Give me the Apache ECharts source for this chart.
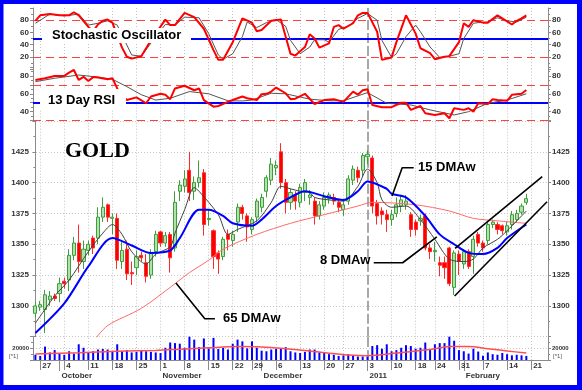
<!DOCTYPE html>
<html><head><meta charset="utf-8">
<script src="https://cdn.jsdelivr.net/npm/echarts@6/dist/echarts.min.js"></script>
<style>html,body{margin:0;padding:0;background:#fff}#c{width:582px;height:390px}</style>
</head><body><div id="c"></div>
<script>
// ---------- DATA ----------
const cats = ['9/24','9/27','9/28','9/29','9/30','10/1',
'10/4','10/5','10/6','10/7','10/8','10/11','10/12','10/13','10/14','10/15',
'10/18','10/19','10/20','10/21','10/22','10/25','10/26','10/27','10/28','10/29',
'11/1','11/2','11/3','11/4','11/5','11/8','11/9','11/10','11/11','11/12',
'11/15','11/16','11/17','11/18','11/19','11/22','11/23','11/24','11/26',
'11/29','11/30','12/1','12/2','12/3','12/6','12/7','12/8','12/9','12/10',
'12/13','12/14','12/15','12/16','12/17','12/20','12/21','12/22','12/23',
'12/27','12/28','12/29','12/30','12/31','1/3','1/4','1/5','1/6','1/7',
'1/10','1/11','1/12','1/13','1/14','1/18','1/19','1/20','1/21',
'1/24','1/25','1/26','1/27','1/28','1/31','2/1','2/2','2/3','2/4',
'2/7','2/8','2/9','2/10','2/11','2/14','2/15','2/16','2/17','2/18',
'2/22','2/23','2/24','2/25'];

const weekIdx    = [1,6,11,16,21,26,31,36,41,45,50,55,60,64,69,74,79,83,88,93,98,103];
const weekLabels = ['27','4','11','18','25','1','8','15','22','29','6','13','20','27','3','10','18','24','31','7','14','21'];
const monthIdx    = [5,26,47,69,89];
const monthLabels = ['October','November','December','2011','February'];
const yearIdx = 69;

const open = [1294,1299,1297,1305,1308,1310,1320,1321,1341,1351,
1336,1345,1355,1355,1372,1382,1371,1371,1336,1346,
1327,1331,1341,1335,1325,1344,1360,1351,1358,1347,
1393,1397,1410,1393,1400,1408,1370,1361,1343,1340,
1358,1353,1368,1380,1373,1362,1372,1380,1393,1402,
1412,1425,1400,1384,1390,1384,1392,1388,1385,1373,
1381,1387,1388,1384,1378,1385,1402,1410,1410,1421,
1420,1383,1377,1374,1370,1375,1381,1382,1374,1368,
1369,1373,1347,1344,1335,1335,1347,1315,1342,1334,
1344,1340,1358,1351,1353,1366,1366,1365,1360,1366,
1370,1376,1384];
const close = [1300,1301,1309,1308,1306,1318,1318,1341,1351,1336,
1346,1350,1347,1372,1380,1372,1372,1337,1345,1326,
1326,1340,1339,1324,1343,1358,1351,1357,1339,1384,
1398,1403,1392,1400,1404,1366,1371,1340,1338,1354,
1354,1358,1380,1375,1364,1370,1385,1388,1404,1415,
1414,1400,1384,1392,1385,1396,1400,1390,1373,1382,
1388,1390,1385,1380,1382,1403,1411,1404,1422,1423,
1381,1373,1374,1370,1374,1382,1386,1385,1362,1362,
1371,1347,1344,1345,1333,1331,1318,1343,1336,1344,
1332,1354,1351,1347,1366,1368,1362,1361,1365,1374,
1375,1381,1387];
const low = [1291,1296,1278,1300,1304,1303,1314,1312,1337,1327,
1330,1341,1342,1350,1368,1368,1358,1330,1330,1321,
1317,1325,1336,1319,1322,1340,1348,1348,1327,1344,
1385,1392,1385,1386,1396,1357,1365,1330,1326,1337,
1345,1348,1360,1370,1352,1358,1368,1376,1388,1398,
1406,1395,1375,1378,1378,1380,1385,1382,1366,1370,
1378,1383,1382,1376,1373,1382,1398,1400,1405,1415,
1375,1366,1366,1360,1365,1372,1376,1378,1356,1357,
1365,1345,1338,1336,1324,1322,1316,1309,1325,1330,
1330,1326,1348,1344,1350,1363,1358,1358,1357,1362,
1368,1374,1382];
const high = [1303,1304,1313,1312,1310,1323,1323,1346,1356,1366,
1353,1353,1357,1380,1388,1383,1375,1375,1352,1353,
1336,1345,1344,1342,1346,1361,1361,1360,1360,1393,
1402,1410,1425,1405,1418,1411,1378,1362,1345,1356,
1362,1361,1383,1382,1375,1372,1387,1391,1406,1420,
1418,1432,1403,1395,1393,1399,1403,1394,1388,1385,
1392,1392,1391,1386,1385,1406,1414,1413,1424,1426,
1422,1386,1380,1378,1378,1388,1390,1390,1376,1370,
1374,1375,1350,1352,1340,1340,1348,1345,1345,1346,
1346,1357,1360,1353,1368,1370,1368,1366,1368,1377,
1378,1383,1391];

const volume = [9000,7000,23000,13000,17000,11000,9000,15000,11000,27000,21000,12000,15000,18000,19000,18000,15000,27000,
15000,17000,13000,14000,16000,15000,14000,13000,
12000,21000,30000,29000,28000,21000,40000,35000,22000,37000,
20000,38000,19000,21000,18000,28000,35000,32000,20000,
32000,21000,16000,15000,18000,19000,20000,22000,15000,13000,12000,
14000,18000,18000,13000,12000,10000,9000,7000,8000,10000,7000,6000,6000,
6000,
24000,25500,19400,27000,15000,17000,21000,25500,24000,19400,21000,30000,18000,27000,29000,29000,40000,33000,17000,15000,11000,19400,14500,7300,13000,
10000,9000,12000,10000,8000,9000,8000,7000];
const volMA = [[0,10500],[9,12500],[17,15000],[25,16500],[30,18500],[36,21000],[42,23000],[47,22500],[52,19500],[57,15500],[61,11500],[65,8500],[69,7500],[75,12000],[82,18000],[86,23000],[90,23000],[94,19500],[98,15500],[102,12000]];

const ma8 = [[0,1286],[4,1308],[7,1321],[11,1344],[14,1359],[16,1366],[18,1358],[20,1344],[23,1334],[25,1342],[28,1348],[29,1359],[31,1378],[33,1396],[34,1393],[38,1374],[40,1358],[42,1362],[46,1369],[49,1384],[51,1397],[53,1395],[55,1393],[57,1392],[58,1388],[61,1386],[64,1385],[67,1397],[69,1411],[71,1400],[72,1386],[74,1380],[77,1381],[80,1370],[83,1354],[86,1338],[89,1336],[91,1338],[93,1347],[96,1354],[98,1361],[102,1377]];
const ma15 = [[0,1278],[6,1302],[11,1332],[16,1355],[20,1349],[24,1343],[28,1345],[30,1355],[34,1378],[36,1378],[39,1373],[41,1367],[45,1365],[47,1370],[50,1381],[53,1388],[56,1393],[60,1389],[64,1386],[67,1393],[69,1401],[73,1395],[74,1391],[77,1388],[81,1373],[84,1358],[87,1350],[90,1343],[93,1342],[96,1347],[98,1355],[102,1366]];
const ma65 = [[12,1271],[15,1284],[22,1298],[29,1318],[32,1327],[36,1337],[39,1346],[46,1358],[53,1367],[60,1374],[67,1381],[70,1384],[79,1382],[86,1377],[91,1371],[96,1369],[102,1367]];

const stochK = [[0,79],[1,88],[3,90],[5,88],[7,88],[8,93],[9,88],[11,69],[12,62],[13,73],[14,79],[15,81],[16,76],[17,55],[18,35],[19,20],[20,17],[22,21],[24,47],[27,81],[28,72],[29,72],[31,92],[33,85],[35,66],[37,31],[38,15],[39,15],[41,44],[43,83],[45,76],[46,62],[47,64],[49,79],[51,81],[52,53],[53,25],[54,22],[56,36],[57,57],[58,50],[59,35],[61,42],[62,69],[63,72],[64,66],[66,75],[67,88],[68,92],[69,92],[71,61],[72,15],[74,19],[75,44],[77,88],[79,58],[80,34],[82,26],[83,16],[85,20],[86,21],[88,44],[89,75],[90,69],[91,80],[93,76],[94,76],[96,88],[97,83],[99,73],[100,79],[101,83],[102,88]];
const stochD = [[0,75],[3,90],[6,87],[9,90],[11,72],[13,75],[15,79],[17,72],[20,23],[22,21],[25,53],[27,73],[29,72],[31,85],[34,84],[36,58],[38,23],[39,16],[41,25],[43,53],[44,77],[46,68],[48,76],[50,81],[52,70],[53,47],[55,25],[57,36],[58,48],[60,48],[61,44],[63,65],[65,70],[67,83],[69,91],[71,80],[72,47],[74,19],[75,25],[77,53],[79,72],[80,61],[82,36],[84,19],[86,21],[88,25],[89,50],[91,75],[92,76],[94,77],[96,84],[98,79],[100,77],[102,85]];
const stochLevels = [80, 20], stochMid = 50;

const rsi = [[0,75.5],[2,77.4],[4,80],[6,80],[7,83.7],[8,86.7],[9,75.5],[10,79],[11,74.4],[12,78.7],[13,78.3],[15,76.3],[16,77.4],[17,66],[18,58],[19,53],[21,56],[23,49.4],[24,57],[26,60],[27,59],[28,54],[29,66],[31,69],[33,64],[34,66],[35,53],[37,45.6],[38,46.3],[40,51],[41,53],[43,57],[44,55],[46,53],[47,59.5],[48,60],[49,62.5],[50,67],[52,60.6],[53,54],[54,54.5],[56,60],[58,48.6],[60,53],[62,54],[64,51],[66,62.5],[67,59],[68,64],[69,65],[70,47.5],[72,45],[74,45],[76,50],[77,50],[78,42],[80,46.4],[81,38.2],[83,36.3],[85,38.2],[86,32.6],[87,43.8],[89,42],[90,43.8],[91,40],[92,49.4],[94,48.6],[95,53.9],[96,53],[98,52.2],[99,58.9],[101,60],[102,64.3]];
const rsiMA = [[0,73.6],[4,77.4],[9,81],[13,78.7],[16,76.3],[19,68],[22,59],[25,53],[28,55],[32,62.5],[36,60],[40,52.2],[43,52],[45,53],[49,60.6],[52,60],[57,54],[61,52.2],[64,52.2],[69,61.3],[73,49.4],[78,47.5],[82,42],[87,36.3],[90,40],[94,49.4],[98,53],[102,60]];
const rsiLevels = [70, 30], rsiMid = 50;

// annotation lines (data coordinates: trading-day index, price)
const lead15 = [[74.1,1389.2],[76.2,1412.1],[78.6,1412.1]];
const lead8 = [[70.3,1335],[76.3,1335],[83.4,1355.9]];
const lead65 = [[29.2,1318.6],[35.2,1289.6],[37.3,1289.6]];
const chanUpper = [[87.2,1346.7],[105.3,1404.8]];
const chanLower = [[87.1,1308],[106.3,1384.5]];

// ---------- CHART ----------
const candles = open.map((o,i)=>[o, close[i], low[i], high[i]]);
const FONT = 'Liberation Sans';
const weekMap = {}; weekIdx.forEach((i,k)=>weekMap[i]=weekLabels[k]);
const monthMap = {}; monthIdx.forEach((i,k)=>monthMap[i]=monthLabels[k]);
const axisCol = '#8a8a8a';

function vGrid(){
  return weekIdx.filter(i=>i!==yearIdx).map(i=>({xAxis:i, lineStyle:{color:'#c4c4c4', type:[1,2], width:1}}))
    .concat([{xAxis:yearIdx, lineStyle:{color:'#a8a8a8', type:[10,3], width:2}}]);
}
function hLine(v,color,type,width){ return {yAxis:v, lineStyle:{color,type,width}}; }
function mk(extra){ return {silent:true, symbol:'none', z:1, label:{show:false}, emphasis:{disabled:true}, animation:false, data:vGrid().concat(extra||[])}; }

function yAx(gridIndex, position, min, max, interval, fmt, extra){
  return Object.assign({
    type:'value', gridIndex, position, min, max, interval,
    axisLine:{show:true, lineStyle:{color:axisCol, width:1}},
    axisTick:{show:true, length:3, lineStyle:{color:axisCol}},
    minorTick:{show:true, splitNumber:2, length:2, lineStyle:{color:axisCol}},
    splitLine:{show:false},
    axisLabel:{formatter:fmt, fontSize:8, fontWeight:'bold', color:'#333', fontFamily:FONT, margin:4}
  }, extra||{});
}
const fStoch = v => (v>=20 && v<=80) ? String(v) : '';
const fRsi = v => (v===40||v===60||v===80) ? String(v) : '';
const fMain = v => (v>=1300 && v<=1425) ? String(v) : '';
const fVol = v => v===20000 ? '20000' : '';
const dotted = {show:true, lineStyle:{color:'#c8c8c8', type:[1,2], width:1}};

const lineBase = {type:'line', symbol:'none', silent:true, animation:false};
const annStyle = {color:'#000', width:1.6};

const chart = echarts.init(document.getElementById('c'));
chart.setOption({
  animation:false,
  backgroundColor:'#fff',
  grid:[
    {left:33, width:515, top:8, height:61},
    {left:33, width:515, top:67, height:53.6},
    {left:33, width:515, top:121, height:215.7},
    {left:33, width:515, top:336.7, height:23.3}
  ],
  xAxis:[
    {type:'category', gridIndex:0, data:cats, show:false},
    {type:'category', gridIndex:1, data:cats, show:false},
    {type:'category', gridIndex:2, data:cats, show:false},
    {type:'category', gridIndex:3, data:cats, position:'bottom',
      axisLine:{show:true, lineStyle:{color:axisCol}},
      axisTick:{show:true, alignWithLabel:true, length:10, interval:(i)=>weekMap[i]!==undefined||monthMap[i]!==undefined, lineStyle:{color:axisCol}},
      axisLabel:{interval:(i)=>weekMap[i]!==undefined, formatter:(v,i)=>weekMap[i]||'', align:'left', margin:2, padding:[0,0,0,2], fontSize:8, fontWeight:'bold', color:'#333', fontFamily:FONT},
      splitLine:{show:false}},
    {type:'category', gridIndex:3, data:cats, position:'bottom', offset:10,
      axisLine:{show:true, lineStyle:{color:axisCol}},
      axisTick:{show:true, alignWithLabel:true, length:11, interval:(i)=>monthMap[i]!==undefined, lineStyle:{color:axisCol}},
      axisLabel:{interval:(i)=>monthMap[i]!==undefined, formatter:(v,i)=>monthMap[i]||'', align:'left', margin:2, padding:[0,0,0,2], fontSize:8, fontWeight:'bold', color:'#333', fontFamily:FONT},
      splitLine:{show:false}},
    {type:'value', gridIndex:2, min:-0.5, max:106.5, show:false}
  ],
  yAxis:[
    yAx(0,'left',0,100,20,fStoch),
    yAx(0,'right',0,100,20,fStoch),
    yAx(1,'left',30,90,10,fRsi),
    yAx(1,'right',30,90,10,fRsi),
    yAx(2,'left',1275,1450,25,fMain,{splitLine:dotted}),
    yAx(2,'right',1275,1450,25,fMain),
    yAx(3,'left',0,40000,20000,fVol,{splitLine:dotted, axisLabel:{formatter:fVol, fontSize:6, fontWeight:'bold', color:'#333', fontFamily:FONT, margin:4}}),
    yAx(3,'right',0,40000,20000,fVol,{axisLabel:{formatter:fVol, fontSize:6, fontWeight:'bold', color:'#333', fontFamily:FONT, margin:4}})
  ],
  series:[
    {...lineBase, xAxisIndex:0, yAxisIndex:0, data:stochD, z:3, lineStyle:{color:'#555', width:1},
      markLine:mk([hLine(stochLevels[0],'#ff4040',[8,5],1), hLine(stochLevels[1],'#ff4040',[8,5],1), hLine(stochMid,'#0000ff','solid',2)])},
    {...lineBase, xAxisIndex:0, yAxisIndex:0, data:stochK, z:4, lineStyle:{color:'#ff0000', width:2}},
    {...lineBase, xAxisIndex:1, yAxisIndex:2, data:rsiMA, z:3, lineStyle:{color:'#555', width:1},
      markLine:mk([hLine(rsiLevels[0],'#ff4040',[8,5],1), hLine(rsiLevels[1],'#ff4040',[8,5],1), hLine(rsiMid,'#0000ff','solid',2)])},
    {...lineBase, xAxisIndex:1, yAxisIndex:2, data:rsi, z:4, lineStyle:{color:'#ff0000', width:2}},
    {type:'candlestick', xAxisIndex:2, yAxisIndex:4, data:candles, barWidth:3.6, silent:true, z:2,
      itemStyle:{color:'#b4e0ab', color0:'#ff0000', borderColor:'#3d9e3d', borderColor0:'#ff2a2a', borderWidth:1},
      markLine:mk([])},
    {...lineBase, xAxisIndex:2, yAxisIndex:4, data:ma65, smooth:0.3, z:3, lineStyle:{color:'#ff6a6a', width:1}},
    {...lineBase, xAxisIndex:2, yAxisIndex:4, data:ma8, smooth:0.3, z:3, lineStyle:{color:'#404040', width:1}},
    {...lineBase, xAxisIndex:2, yAxisIndex:4, data:ma15, smooth:0.3, z:4, lineStyle:{color:'#0000ff', width:2}},
    {...lineBase, xAxisIndex:5, yAxisIndex:4, data:lead15, z:5, lineStyle:annStyle},
    {...lineBase, xAxisIndex:5, yAxisIndex:4, data:lead8, z:5, lineStyle:annStyle},
    {...lineBase, xAxisIndex:5, yAxisIndex:4, data:lead65, z:5, lineStyle:annStyle},
    {...lineBase, xAxisIndex:5, yAxisIndex:4, data:chanUpper, z:5, lineStyle:annStyle},
    {...lineBase, xAxisIndex:5, yAxisIndex:4, data:chanLower, z:5, lineStyle:annStyle},
    {type:'bar', xAxisIndex:3, yAxisIndex:6, data:volume, barWidth:2, silent:true, z:2, itemStyle:{color:'#0000ff'}, markLine:mk([])},
    {...lineBase, xAxisIndex:3, yAxisIndex:6, data:volMA, smooth:0.3, z:3, lineStyle:{color:'#ff5050', width:1.5}}
  ],
  graphic:[
    {type:'rect', z:100, shape:{x:0,y:0,width:582,height:4}, style:{fill:'#0000ff'}},
    {type:'rect', z:100, shape:{x:0,y:385,width:582,height:5}, style:{fill:'#0000ff'}},
    {type:'rect', z:100, shape:{x:0,y:0,width:3.5,height:390}, style:{fill:'#0000ff'}},
    {type:'rect', z:100, shape:{x:577,y:0,width:5,height:390}, style:{fill:'#0000ff'}},
    {type:'rect', z:90, shape:{x:42,y:28,width:149,height:15}, style:{fill:'#fff'}},
    {type:'text', z:91, x:52, y:35.5, style:{text:'Stochastic Oscillator', fontSize:13, fontWeight:'bold', fontFamily:FONT, fill:'#000', verticalAlign:'middle'}},
    {type:'rect', z:90, shape:{x:40,y:89,width:86,height:21}, style:{fill:'#fff'}},
    {type:'text', z:91, x:48, y:100, style:{text:'13 Day RSI', fontSize:13, fontWeight:'bold', fontFamily:FONT, fill:'#000', verticalAlign:'middle'}},
    {type:'text', z:91, x:65, y:151, style:{text:'GOLD', fontSize:22, fontWeight:'bold', fontFamily:'Liberation Serif', fill:'#000', verticalAlign:'middle'}},
    {type:'text', z:91, x:418, y:167, style:{text:'15 DMAw', fontSize:13, fontWeight:'bold', fontFamily:FONT, fill:'#000', verticalAlign:'middle'}},
    {type:'text', z:91, x:320, y:260, style:{text:'8 DMAw', fontSize:13, fontWeight:'bold', fontFamily:FONT, fill:'#000', verticalAlign:'middle'}},
    {type:'text', z:91, x:223, y:318, style:{text:'65 DMAw', fontSize:13, fontWeight:'bold', fontFamily:FONT, fill:'#000', verticalAlign:'middle'}},
    {type:'text', z:91, x:9, y:356, style:{text:'[*1]', fontSize:6, fontFamily:FONT, fill:'#555', verticalAlign:'middle'}},
    {type:'text', z:91, x:553, y:356, style:{text:'[*1]', fontSize:6, fontFamily:FONT, fill:'#555', verticalAlign:'middle'}}
  ]
});
</script></body></html>
